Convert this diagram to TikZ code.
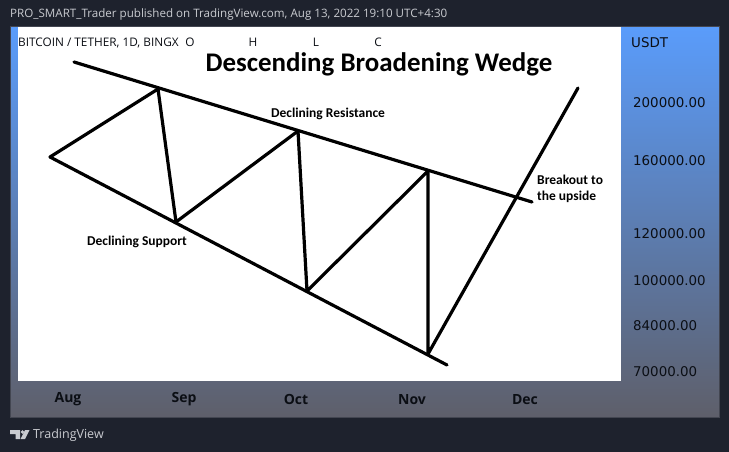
\documentclass[tikz,border=0pt]{standalone}
\usepackage{fontspec}
\setmainfont{Open Sans}
\newfontfamily\annot{Carlito}
\newfontfamily\wide{DejaVu Sans}
\definecolor{bgdark}{HTML}{1E222D}
\definecolor{paneltop}{HTML}{5A9CFB}
\definecolor{panelbot}{HTML}{5E5F6A}
\definecolor{edgec}{HTML}{434651}
\definecolor{hdr}{HTML}{C9CBD0}
\definecolor{axis}{HTML}{0B0E14}
\tikzset{
  lbl/.style={inner sep=0pt,text=axis,font=\fontsize{11.8}{14}\selectfont},
  price/.style={lbl,anchor=west,font=\wide\fontsize{13.4}{16}\selectfont},
  month/.style={lbl,font=\bfseries\fontsize{14}{16}\selectfont},
  note/.style={inner sep=0pt,text=black,font=\annot\bfseries\fontsize{13.5}{16}\selectfont,align=left},
  trend/.style={draw=black,line width=3.2pt,line cap=round,line join=round},
}
\begin{document}
\begin{tikzpicture}[x=1pt,y=-1pt]
\useasboundingbox (0,0) rectangle (729,452);
\fill[bgdark] (0,0) rectangle (729,452);
\shade[top color=paneltop,bottom color=panelbot,middle color=paneltop!50!panelbot] (10,27) rectangle (719,417);
\draw[edgec,line width=1pt] (10,27) rectangle (719,417);
\fill[white] (18,27) rectangle (621,381);
% header and footer
\node[inner sep=0pt,anchor=west,text=hdr,font=\fontsize{11.6}{14}\selectfont] (hdr) at (10,14.5) {PRO\_SMART\_Trader published on TradingView.com, Aug 13, 2022 19:10 UTC+4:30};
\node[lbl,anchor=west] (sym) at (18,42.5) {BITCOIN / TETHER, 1D, BINGX};
\node[lbl] (o) at (190,42.5) {O};
\node[lbl] (h) at (253,42.5) {H};
\node[lbl] (l) at (316,42.5) {L};
\node[lbl] (c) at (378,42.5) {C};
% title and notes
\node[inner sep=0pt,text=black,font=\annot\bfseries\fontsize{26.9}{30}\selectfont] (title) at (379,64) {Descending Broadening Wedge};
\node[note] (res) at (328,114) {Declining Resistance};
\node[note] (sup) at (137,241.5) {Declining Support};
\node[note,anchor=west] (brk) at (537,189) {Breakout to\\the upside};
% trend lines
\coordinate (ua) at (74,62); \coordinate (ub) at (532,202);
\coordinate (la) at (50,157); \coordinate (lb) at (447,365);
\coordinate (p1) at (158,89); \coordinate (p2) at (176,222);
\coordinate (p3) at (298,131); \coordinate (p4) at (307,291);
\coordinate (p5) at (428,171); \coordinate (p6) at (428,354);
\coordinate (p7) at (578,88);
\draw[trend] (ua) -- (ub);
\draw[trend] (la) -- (lb);
\draw[trend] (la) -- (p1) -- (p2) -- (p3) -- (p4) -- (p5) -- (p6) -- (p7);
% price axis
\node[price] (usdt) at (631,43) {USDT};
\node[price] (a1) at (633,103) {200000.00};
\node[price] (a2) at (633,160.5) {160000.00};
\node[price] (a3) at (633,233.5) {120000.00};
\node[price] (a4) at (633,280.5) {100000.00};
\node[price] (a5) at (633,325.5) {84000.00};
\node[price] (a6) at (633,372) {70000.00};
% time axis
\node[month] (m1) at (68,399.5) {Aug};
\node[month] (m2) at (184,399.5) {Sep};
\node[month] (m3) at (296,399.5) {Oct};
\node[month] (m4) at (412,399.5) {Nov};
\node[month] (m5) at (525,399.5) {Dec};
% logo
\fill[hdr] (10,430) -- (20,430) -- (20,439) -- (15.5,439) -- (15.5,434) -- (10,434) -- cycle;
\fill[hdr] (22.5,431.9) circle (1.9);
\fill[hdr] (25,430) -- (29.5,430) -- (25,439) -- (20.5,439) -- cycle;
\node[inner sep=0pt,anchor=west,text=hdr,font=\fontsize{12.5}{15}\selectfont] (tv) at (33,435) {TradingView};
\end{tikzpicture}
\end{document}
